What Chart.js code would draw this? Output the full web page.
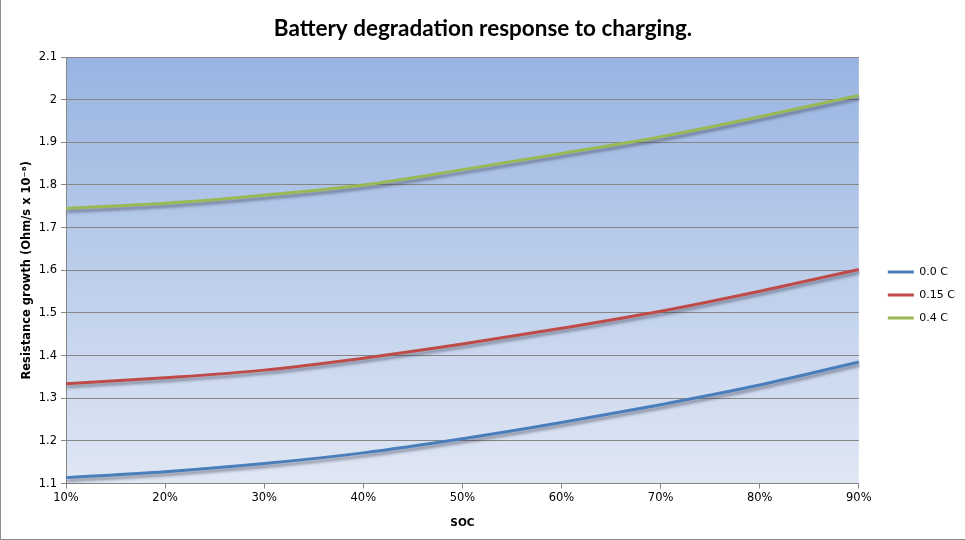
<!DOCTYPE html>
<html>
<head>
<meta charset="utf-8">
<script src="https://cdn.jsdelivr.net/npm/chart.js@4.4.1/dist/chart.umd.min.js"></script>
<style>
  html, body { margin: 0; padding: 0; background: #ffffff; }
  #wrap { width: 965px; height: 540px; position: relative; box-sizing: border-box; border-left: 1px solid #8c8c8c; border-bottom: 1px solid #8c8c8c; }
  canvas { display: block; }
</style>
</head>
<body>
<div id="wrap"><canvas id="lineChart" width="964" height="539"></canvas></div>
<script>
var socLabels = ["10%", "20%", "30%", "40%", "50%", "60%", "70%", "80%", "90%"];
var rate00 = [1.114, 1.128, 1.147, 1.172, 1.205, 1.243, 1.285, 1.331, 1.385];
var rate015 = [1.334, 1.348, 1.366, 1.394, 1.427, 1.464, 1.504, 1.551, 1.602];
var rate04 = [1.745, 1.757, 1.776, 1.800, 1.836, 1.874, 1.913, 1.960, 2.010];

// gradient behind the plot area
var plotBackground = {
    id: "plotBackground",
    beforeDraw: function(chart) {
        var a = chart.chartArea;
        var ctx = chart.ctx;
        var g = ctx.createLinearGradient(0, a.top, 0, a.bottom);
        g.addColorStop(0, "#98b4e1");
        g.addColorStop(1, "#e0e7f4");
        ctx.save();
        ctx.fillStyle = g;
        ctx.fillRect(a.left, a.top, a.right - a.left, a.bottom - a.top);
        ctx.restore();
    }
};

// soft shadow under the lines
var lineShadow = {
    id: "lineShadow",
    beforeDatasetsDraw: function(chart) {
        var ctx = chart.ctx;
        ctx.save();
        ctx.shadowColor = "rgba(40, 40, 60, 0.45)";
        ctx.shadowBlur = 3;
        ctx.shadowOffsetX = 1;
        ctx.shadowOffsetY = 3;
    },
    afterDatasetsDraw: function(chart) {
        chart.ctx.restore();
    }
};

// leave a gap between plot and legend, and push the legend a bit lower
var legendGap = {
    id: "legendGap",
    beforeLayout: function(chart) {
        var leg = chart.legend;
        if (!leg || leg._gapDone) return;
        leg._gapDone = true;
        var fit = leg.fit;
        var draw = leg.draw;
        leg.fit = function() {
            fit.call(this);
            this.width += 17;
        };
        leg.draw = function() {
            this.left += 17;
            this.top += 30;
            this.bottom += 30;
            draw.call(this);
            this.left -= 17;
            this.top -= 30;
            this.bottom -= 30;
        };
    }
};

var ctx1 = document.getElementById("lineChart").getContext("2d");
var myChart = new Chart(ctx1, {
    type: "line",
    data: {
        labels: socLabels,
        datasets: [
            {
                label: "0.0 C",
                data: rate00,
                borderColor: "#4a7ebb",
                backgroundColor: "#4a7ebb",
                borderWidth: 3,
                pointRadius: 0,
                cubicInterpolationMode: "monotone"
            },
            {
                label: "0.15 C",
                data: rate015,
                borderColor: "#be4b48",
                backgroundColor: "#be4b48",
                borderWidth: 3,
                pointRadius: 0,
                cubicInterpolationMode: "monotone"
            },
            {
                label: "0.4 C",
                data: rate04,
                borderColor: "#98b954",
                backgroundColor: "#98b954",
                borderWidth: 3,
                pointRadius: 0,
                cubicInterpolationMode: "monotone"
            }
        ]
    },
    options: {
        responsive: false,
        maintainAspectRatio: false,
        animation: false,
        layout: { padding: { left: 0, right: 0, top: 0, bottom: 9 } },
        plugins: {
            title: {
                display: true,
                text: "Battery degradation response to charging.",
                color: "#000000",
                font: { family: "Lato", size: 22.5, weight: "bold" },
                padding: { top: 15, bottom: 15 }
            },
            legend: {
                position: "right",
                labels: {
                    color: "#000000",
                    font: { family: "DejaVu Sans", size: 11 },
                    usePointStyle: true,
                    pointStyle: "line",
                    pointStyleWidth: 26,
                    boxWidth: 26,
                    padding: 12
                }
            },
            tooltip: { enabled: false }
        },
        scales: {
            y: {
                min: 1.1,
                max: 2.1,
                afterFit: function(scale) { scale.width = 65; },
                ticks: {
                    stepSize: 0.1,
                    color: "#000000",
                    font: { family: "DejaVu Sans", size: 11.5 },
                    padding: 4,
                    callback: function(value) {
                        return Math.round(value * 10) / 10;
                    }
                },
                border: { color: "#868686", width: 1 },
                grid: {
                    color: "#868686",
                    lineWidth: 1,
                    tickLength: 5
                },
                title: {
                    display: true,
                    text: "Resistance growth (Ohm/s x 10\u207B\u2078)",
                    color: "#000000",
                    font: { family: "DejaVu Sans", size: 11.5, weight: "bold" },
                    padding: { top: 19, bottom: 0 }
                }
            },
            x: {
                offset: false,
                ticks: {
                    color: "#000000",
                    font: { family: "DejaVu Sans", size: 11.5 },
                    maxRotation: 0,
                    padding: 3
                },
                border: { color: "#868686", width: 1 },
                grid: {
                    drawOnChartArea: false,
                    color: "#868686",
                    tickLength: 5
                },
                title: {
                    display: true,
                    text: "SOC",
                    color: "#000000",
                    font: { family: "DejaVu Sans", size: 10.5, weight: "bold" },
                    padding: { top: 9, bottom: 0 }
                }
            }
        }
    },
    plugins: [plotBackground, lineShadow, legendGap]
});
</script>
</body>
</html>
